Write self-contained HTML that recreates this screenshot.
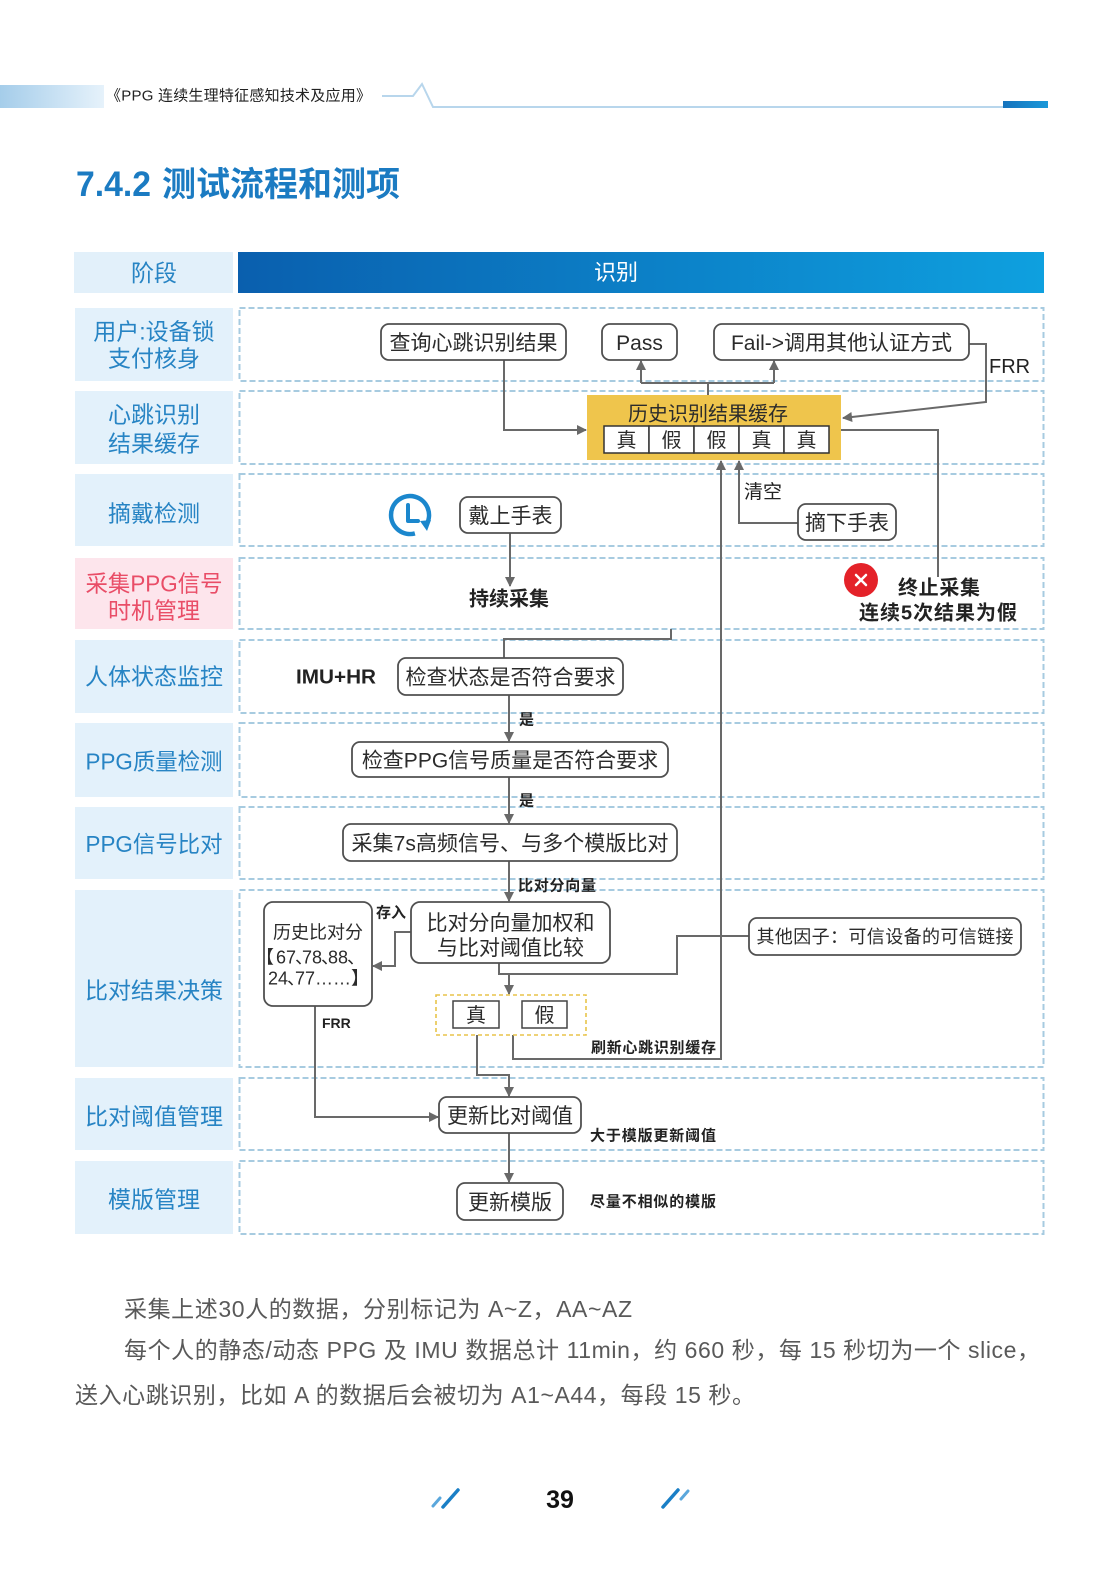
<!DOCTYPE html>
<html><head><meta charset="utf-8"><style>
html,body{margin:0;padding:0;background:#fff;}
svg{display:block;}
text{font-family:"Liberation Sans","Noto Sans CJK SC",sans-serif;}
.lab{font-size:23px;fill:#2784c4;text-anchor:middle;}
.nd{font-size:21px;fill:#2b2b2b;text-anchor:middle;}
.bx{fill:#fff;stroke:#505050;stroke-width:1.8;}
.dr{fill:none;stroke:#a7cbe0;stroke-width:2;stroke-dasharray:6 3;}
.cl{fill:#e3f1fb;}
.cn{fill:none;stroke:#696969;stroke-width:2;}
.sb{font-size:15px;font-weight:bold;fill:#222;}
.bd{font-size:20px;font-weight:bold;fill:#222;}
.body{font-size:23px;fill:#595959;}
.hs{font-size:18px;fill:#2b2b2b;}
</style></head><body>
<svg width="1119" height="1587" viewBox="0 0 1119 1587" xmlns="http://www.w3.org/2000/svg">
<defs>
<linearGradient id="hg" x1="0" x2="1" y1="0" y2="0"><stop offset="0" stop-color="#0a5fae"/><stop offset="1" stop-color="#0ea0df"/></linearGradient>
<linearGradient id="lg" x1="0" x2="1" y1="0" y2="0"><stop offset="0" stop-color="#a5cdea"/><stop offset="1" stop-color="#e6f2fb"/></linearGradient>
<linearGradient id="bg2" x1="0" x2="1" y1="0" y2="0"><stop offset="0" stop-color="#1673bd"/><stop offset="1" stop-color="#1a98d9"/></linearGradient>
<marker id="ar" viewBox="0 0 10 10" refX="9" refY="5" markerWidth="11" markerHeight="10" markerUnits="userSpaceOnUse" orient="auto"><path d="M0,0 L10,5 L0,10z" fill="#696969"/></marker>
</defs>
<rect x="0" y="0" width="1119" height="1587" fill="#fff"/>

<!-- page header -->
<rect x="0" y="85" width="104" height="23" fill="url(#lg)"/>
<text x="106" y="100.5" font-size="15" fill="#222" textLength="265" lengthAdjust="spacing">《PPG 连续生理特征感知技术及应用》</text>
<polyline points="382,96 413,96 422,84 433,107 1003,107" fill="none" stroke="#b8d6ec" stroke-width="2"/>
<rect x="1003" y="101" width="45" height="7" fill="url(#bg2)"/>

<!-- title -->
<text x="76" y="196" font-size="35" font-weight="bold" fill="#1b7bc2" textLength="75" lengthAdjust="spacingAndGlyphs">7.4.2</text>
<text x="162" y="196" font-size="34" font-weight="bold" fill="#1b7bc2" textLength="238" lengthAdjust="spacing">测试流程和测项</text>

<!-- table header -->
<rect x="74" y="252" width="159" height="41" fill="#e2f0fa"/>
<text class="lab" x="154" y="281">阶段</text>
<rect x="238" y="252" width="806" height="41" fill="url(#hg)"/>
<text x="616" y="280" font-size="22" fill="#fff" text-anchor="middle">识别</text>

<!-- row label cells -->
<rect class="cl" x="75" y="308" width="158" height="73"/>
<rect class="cl" x="75" y="391" width="158" height="73"/>
<rect class="cl" x="75" y="474" width="158" height="72"/>
<rect x="75" y="558" width="158" height="71" fill="#fde5ec"/>
<rect class="cl" x="75" y="640" width="158" height="73"/>
<rect class="cl" x="75" y="723" width="158" height="74"/>
<rect class="cl" x="75" y="807" width="158" height="72"/>
<rect class="cl" x="75" y="890" width="158" height="177"/>
<rect class="cl" x="75" y="1078" width="158" height="72"/>
<rect class="cl" x="75" y="1161" width="158" height="73"/>

<text class="lab" x="154" y="339.5">用户:设备锁</text>
<text class="lab" x="154" y="366.5">支付核身</text>
<text class="lab" x="154" y="422.5">心跳识别</text>
<text class="lab" x="154" y="451.5">结果缓存</text>
<text class="lab" x="154" y="521.5">摘戴检测</text>
<text class="lab" x="154" y="591.5" style="fill:#e94d67" textLength="137" lengthAdjust="spacingAndGlyphs">采集PPG信号</text>
<text class="lab" x="154" y="618.5" style="fill:#e94d67">时机管理</text>
<text class="lab" x="154" y="684.5">人体状态监控</text>
<text class="lab" x="154" y="769.5" textLength="137" lengthAdjust="spacingAndGlyphs">PPG质量检测</text>
<text class="lab" x="154" y="852" textLength="137" lengthAdjust="spacingAndGlyphs">PPG信号比对</text>
<text class="lab" x="154" y="998.5">比对结果决策</text>
<text class="lab" x="154" y="1124.5">比对阈值管理</text>
<text class="lab" x="154" y="1207.5">模版管理</text>

<!-- dashed row boxes -->
<rect class="dr" x="239.5" y="308" width="804" height="73"/>
<rect class="dr" x="239.5" y="391" width="804" height="73"/>
<rect class="dr" x="239.5" y="474" width="804" height="72"/>
<rect class="dr" x="239.5" y="558" width="804" height="71"/>
<rect class="dr" x="239.5" y="640" width="804" height="73"/>
<rect class="dr" x="239.5" y="723" width="804" height="74"/>
<rect class="dr" x="239.5" y="807" width="804" height="72"/>
<rect class="dr" x="239.5" y="890" width="804" height="177"/>
<rect class="dr" x="239.5" y="1078" width="804" height="72"/>
<rect class="dr" x="239.5" y="1161" width="804" height="73"/>

<!-- connectors -->
<path class="cn" d="M504,360 V430 H586" marker-end="url(#ar)"/>
<path class="cn" d="M708,395 V383"/>
<path class="cn" d="M641,383 H774"/>
<path class="cn" d="M641,383 V361" marker-end="url(#ar)"/>
<path class="cn" d="M774,383 V361" marker-end="url(#ar)"/>
<path class="cn" d="M969,344 H986 V402 L843,418" marker-end="url(#ar)"/>
<path class="cn" d="M841,430 H938 V577"/>
<path class="cn" d="M510,533 V586" marker-end="url(#ar)"/>
<path class="cn" d="M513,1035 V1059 H721 V461" marker-end="url(#ar)"/>
<path class="cn" d="M798,523 H739 V461" marker-end="url(#ar)"/>
<path class="cn" d="M671,629 V639 H504 V658"/>
<path class="cn" d="M509,695 V741" marker-end="url(#ar)"/>
<path class="cn" d="M509,777 V823" marker-end="url(#ar)"/>
<path class="cn" d="M509,861 V901" marker-end="url(#ar)"/>
<path class="cn" d="M411,932 H395 V966 H373" marker-end="url(#ar)"/>
<path class="cn" d="M499,963 V974 H677 V936 H749"/>
<path class="cn" d="M509,974 V994" marker-end="url(#ar)"/>
<path class="cn" d="M477,1035 V1075 H509 V1096" marker-end="url(#ar)"/>
<path class="cn" d="M315,1006 V1117 H438" marker-end="url(#ar)"/>
<path class="cn" d="M509,1133 V1182" marker-end="url(#ar)"/>

<!-- row 1 nodes -->
<rect class="bx" x="381" y="324" width="185" height="36" rx="8"/>
<text class="nd" x="473.5" y="349.8">查询心跳识别结果</text>
<rect class="bx" x="602" y="324" width="75" height="36" rx="8"/>
<text class="nd" x="639.5" y="349.8">Pass</text>
<rect class="bx" x="714" y="324" width="255" height="36" rx="8"/>
<text class="nd" x="841.5" y="349.8">Fail-&gt;调用其他认证方式</text>
<text x="989" y="373" font-size="20" fill="#222">FRR</text>

<!-- cache -->
<rect x="587" y="395" width="254" height="65" fill="#efc54c"/>
<text class="nd" x="708" y="420.4" style="font-size:20px">历史识别结果缓存</text>
<g stroke="#333" stroke-width="1.5" fill="#fff">
<rect x="604" y="426" width="45" height="27"/>
<rect x="649" y="426" width="45" height="27"/>
<rect x="694" y="426" width="45" height="27"/>
<rect x="739" y="426" width="45" height="27"/>
<rect x="784" y="426" width="45" height="27"/>
</g>
<text class="nd" x="626.5" y="447" style="font-size:20px">真</text>
<text class="nd" x="671.5" y="447" style="font-size:20px">假</text>
<text class="nd" x="716.5" y="447" style="font-size:20px">假</text>
<text class="nd" x="761.5" y="447" style="font-size:20px">真</text>
<text class="nd" x="806.5" y="447" style="font-size:20px">真</text>

<!-- row 3 -->
<path d="M414.9,533.4 A19,19 0 1 1 426.5,524.5" fill="none" stroke="#1b87cd" stroke-width="4.5"/>
<path d="M420,521 L431,520 L427,531 Z" fill="#1b87cd"/>
<path d="M408,505 V521 H418" fill="none" stroke="#1b87cd" stroke-width="4" stroke-linecap="round" stroke-linejoin="round"/>
<rect class="bx" x="460" y="497" width="101" height="36" rx="8"/>
<text class="nd" x="510.5" y="522.8">戴上手表</text>
<rect class="bx" x="798" y="504" width="98" height="36" rx="8"/>
<text class="nd" x="847" y="529.8">摘下手表</text>
<text x="744" y="498" font-size="19" fill="#222">清空</text>

<!-- row 4 -->
<text class="bd" x="509" y="605.4" text-anchor="middle">持续采集</text>
<circle cx="861" cy="580" r="17" fill="#e42229"/>
<path d="M856,575 L866,585 M866,575 L856,585" stroke="#fff" stroke-width="2.5" stroke-linecap="round"/>
<text class="bd" x="898" y="594.4" textLength="82" lengthAdjust="spacing">终止采集</text>
<text class="bd" x="859" y="619.4" textLength="158" lengthAdjust="spacing">连续5次结果为假</text>

<!-- row 5-7 -->
<text class="bd" x="296" y="683.4" textLength="80" lengthAdjust="spacingAndGlyphs">IMU+HR</text>
<rect class="bx" x="398" y="658" width="225" height="37" rx="8"/>
<text class="nd" x="510.5" y="684.3">检查状态是否符合要求</text>
<text class="sb" x="519" y="724.5">是</text>
<rect class="bx" x="352" y="742" width="316" height="35" rx="8"/>
<text class="nd" x="510" y="767.3">检查PPG信号质量是否符合要求</text>
<text class="sb" x="519" y="805.5">是</text>
<rect class="bx" x="343" y="824" width="334" height="37" rx="8"/>
<text class="nd" x="510" y="850.3" textLength="317" lengthAdjust="spacingAndGlyphs">采集7s高频信号、与多个模版比对</text>
<text class="sb" x="518" y="890.5" textLength="78" lengthAdjust="spacing">比对分向量</text>

<!-- row 8 -->
<rect class="bx" x="411" y="902" width="199" height="61" rx="9"/>
<text class="nd" x="510.5" y="929.8">比对分向量加权和</text>
<text class="nd" x="510.5" y="954.8">与比对阈值比较</text>
<rect class="bx" x="264" y="902" width="108" height="104" rx="9"/>
<text class="nd" x="318" y="938.7" style="font-size:18px">历史比对分</text>
<text class="hs" y="963.7"><tspan x="256">【</tspan><tspan x="276">67</tspan><tspan x="295">、</tspan><tspan x="302">78</tspan><tspan x="321">、</tspan><tspan x="328">88</tspan><tspan x="347">、</tspan></text>
<text class="hs" y="984.7"><tspan x="268">24</tspan><tspan x="287">、</tspan><tspan x="295">77</tspan><tspan x="315">……</tspan><tspan x="351">】</tspan></text>
<text class="sb" x="376" y="917.5">存入</text>
<text class="sb" x="322" y="1028" style="font-size:14px">FRR</text>
<rect class="bx" x="749" y="918" width="272" height="37" rx="8"/>
<text class="nd" x="885" y="943.2" style="font-size:18px" textLength="257" lengthAdjust="spacing">其他因子：可信设备的可信链接</text>
<rect x="436" y="995" width="150" height="40" fill="none" stroke="#e8c44a" stroke-width="1.6" stroke-dasharray="4 3"/>
<rect x="453" y="1001" width="46" height="27" fill="#fff" stroke="#444" stroke-width="1.5"/>
<rect x="522" y="1001" width="45" height="27" fill="#fff" stroke="#444" stroke-width="1.5"/>
<text class="nd" x="476" y="1022" style="font-size:20px">真</text>
<text class="nd" x="544.5" y="1022" style="font-size:20px">假</text>
<text class="sb" x="591" y="1052.5" textLength="125" lengthAdjust="spacing">刷新心跳识别缓存</text>

<!-- row 9-10 -->
<rect class="bx" x="439" y="1097" width="142" height="36" rx="8"/>
<text class="nd" x="510" y="1122.8">更新比对阈值</text>
<text class="sb" x="590" y="1140.5" textLength="126" lengthAdjust="spacing">大于模版更新阈值</text>
<rect class="bx" x="457" y="1183" width="106" height="37" rx="8"/>
<text class="nd" x="510" y="1209.3">更新模版</text>
<text class="sb" x="590" y="1206.5" textLength="126" lengthAdjust="spacing">尽量不相似的模版</text>

<!-- body text -->
<text class="body" x="124" y="1317" textLength="508" lengthAdjust="spacing">采集上述30人的数据，分别标记为 A~Z，AA~AZ</text>
<text class="body" x="124" y="1358" textLength="916" lengthAdjust="spacing">每个人的静态/动态 PPG 及 IMU 数据总计 11min，约 660 秒，每 15 秒切为一个 slice，</text>
<text class="body" x="75" y="1403" textLength="680" lengthAdjust="spacing">送入心跳识别，比如 A 的数据后会被切为 A1~A44，每段 15 秒。</text>

<!-- footer -->
<line x1="433" y1="1506" x2="440" y2="1498" stroke="#5aa7dc" stroke-width="3" stroke-linecap="round"/>
<line x1="443" y1="1507" x2="458" y2="1490" stroke="#1a7fc6" stroke-width="3.5" stroke-linecap="round"/>
<line x1="663" y1="1507" x2="678" y2="1490" stroke="#1a7fc6" stroke-width="3.5" stroke-linecap="round"/>
<line x1="681" y1="1499" x2="688" y2="1491" stroke="#5aa7dc" stroke-width="3" stroke-linecap="round"/>
<text x="560" y="1508" font-size="25" font-weight="bold" fill="#111" text-anchor="middle">39</text>
</svg>
</body></html>
